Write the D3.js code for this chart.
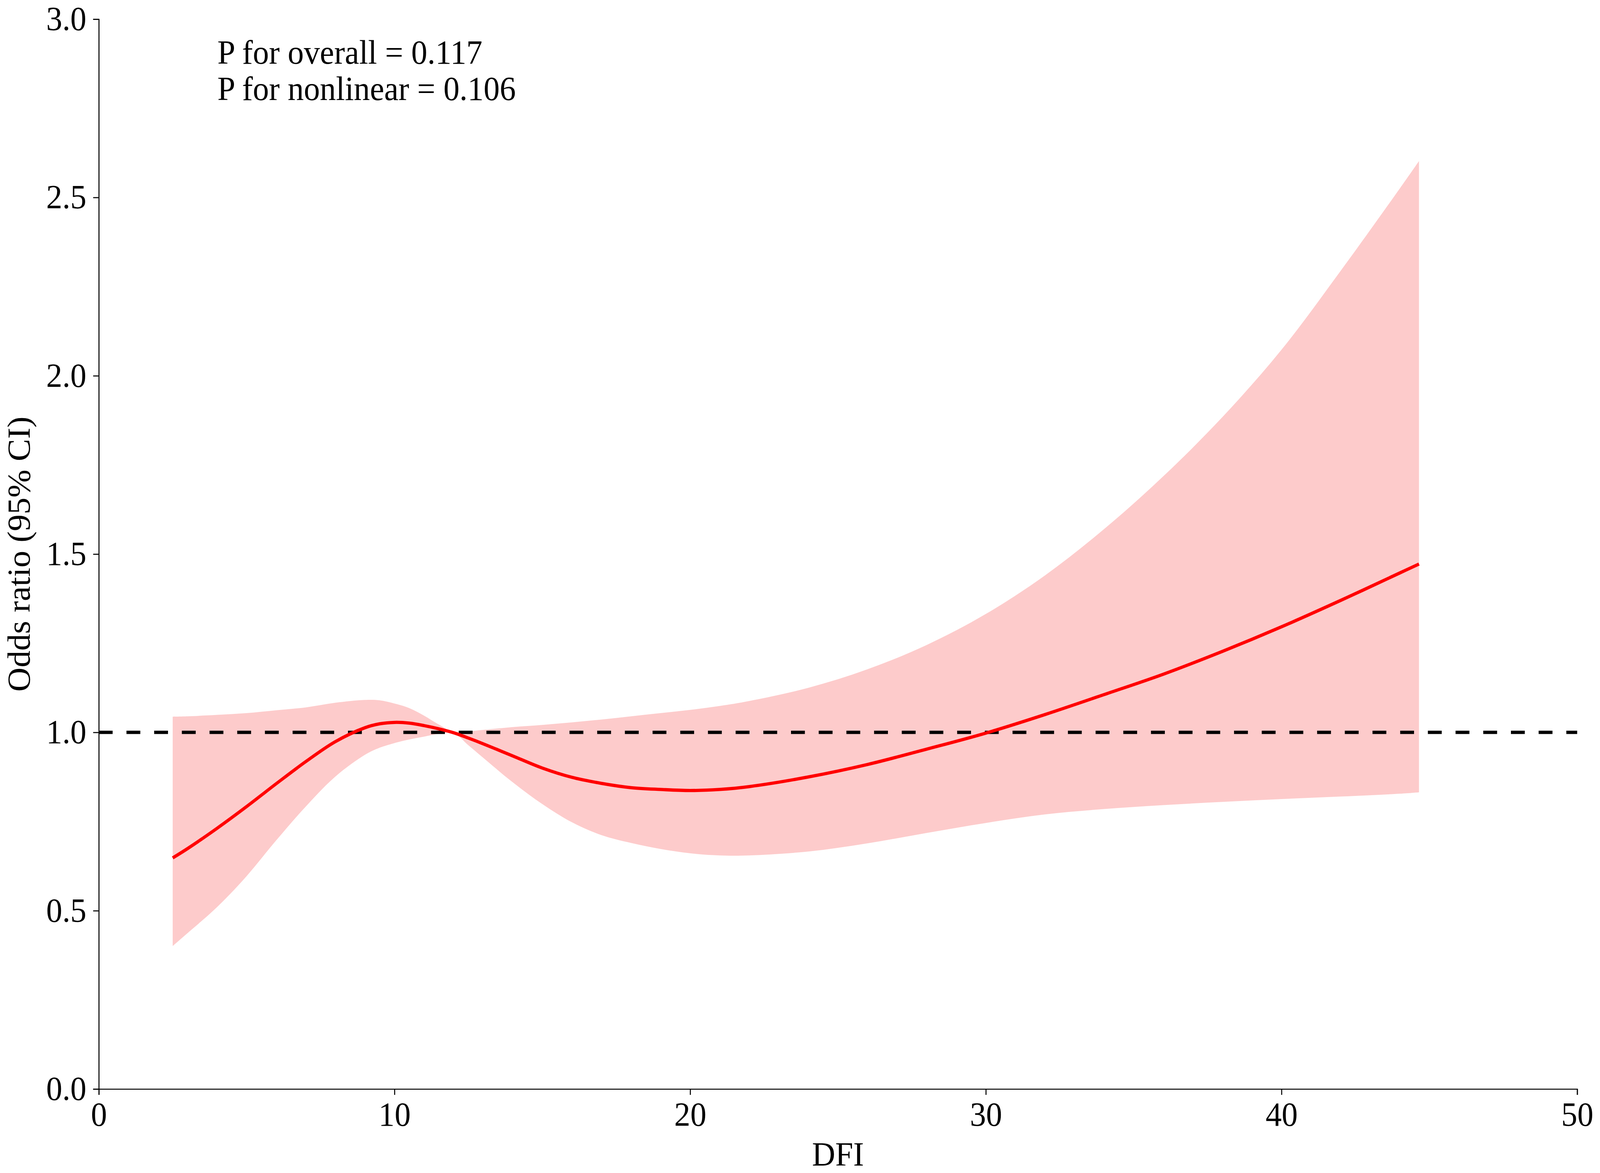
<!DOCTYPE html>
<html>
<head>
<meta charset="utf-8">
<script src="https://cdn.jsdelivr.net/npm/d3@7"></script>
<style>
  html, body { margin: 0; padding: 0; background: #fff; overflow: hidden; }
  svg { display: block; }
  text { font-family: "Liberation Serif", "Times New Roman", serif; }
</style>
</head>
<body>
<div id="chart"></div>
<script>
// DFI grid and spline values
var dfi   = [2.5, 3, 4, 5, 6, 7, 8, 9, 9.5, 10, 10.5, 11, 11.5, 12, 12.5, 13, 14, 15, 16, 17, 18, 19, 20, 21, 22, 24, 26, 28, 30, 32, 34, 36, 38, 40, 42, 44, 44.65];
var orEst = [0.648, 0.674, 0.731, 0.792, 0.856, 0.918, 0.974, 1.013, 1.024, 1.028, 1.026, 1.019, 1.010, 0.999, 0.984, 0.968, 0.934, 0.900, 0.874, 0.857, 0.845, 0.840, 0.837, 0.840, 0.848, 0.875, 0.910, 0.953, 0.998, 1.050, 1.106, 1.163, 1.227, 1.296, 1.370, 1.447, 1.472];
var ciLow = [0.401, 0.437, 0.510, 0.597, 0.697, 0.792, 0.876, 0.937, 0.957, 0.970, 0.980, 0.988, 0.996, 0.998, 0.964, 0.929, 0.860, 0.799, 0.748, 0.712, 0.690, 0.673, 0.661, 0.655, 0.655, 0.666, 0.689, 0.718, 0.746, 0.770, 0.785, 0.796, 0.805, 0.813, 0.820, 0.828, 0.832];
var ciUp  = [1.044, 1.045, 1.049, 1.054, 1.062, 1.070, 1.083, 1.091, 1.090, 1.081, 1.068, 1.047, 1.022, 1.001, 1.003, 1.007, 1.015, 1.021, 1.028, 1.036, 1.045, 1.054, 1.063, 1.074, 1.088, 1.125, 1.177, 1.245, 1.332, 1.440, 1.570, 1.718, 1.884, 2.073, 2.294, 2.525, 2.602];

var xTicks = [0, 10, 20, 30, 40, 50];
var yTicks = [0, 0.5, 1.0, 1.5, 2.0, 2.5, 3.0];
var pTexts = ["P for overall = 0.117", "P for nonlinear = 0.106"];
var refLine = 1.0;

var width = 4276, height = 3002;
var margin = {left: 264, right: 61, top: 49, bottom: 215};
var fontSize = 86;

// the window is narrower than the figure, so stretch the drawing to fill it
var svg = d3.select("#chart").append("svg")
    .attr("viewBox", "0 0 " + width + " " + height)
    .attr("preserveAspectRatio", "none")
    .style("width", "100vw")
    .style("height", "100vh");

var x = d3.scaleLinear().domain([0, 50]).range([margin.left, width - margin.right]);
var y = d3.scaleLinear().domain([0, 3]).range([height - margin.bottom, margin.top]);

var pts = dfi.map(function(d, i) {
    return {x: d, est: orEst[i], lo: ciLow[i], hi: ciUp[i]};
});

// confidence band
var area = d3.area()
    .x(d => x(d.x))
    .y0(d => y(d.lo))
    .y1(d => y(d.hi))
    .curve(d3.curveCatmullRom.alpha(0.5));

svg.append("path")
    .datum(pts)
    .attr("d", area)
    .attr("fill", "#fdcbcb");

// reference line at OR = 1
svg.append("line")
    .attr("x1", x(0))
    .attr("x2", x(50))
    .attr("y1", y(refLine))
    .attr("y2", y(refLine))
    .attr("stroke", "#000")
    .attr("stroke-width", 8.5)
    .attr("stroke-dasharray", "37,37");

// estimate line
var line = d3.line()
    .x(d => x(d.x))
    .y(d => y(d.est))
    .curve(d3.curveCatmullRom.alpha(0.5));

svg.append("path")
    .datum(pts)
    .attr("d", line)
    .attr("fill", "none")
    .attr("stroke", "#ff0000")
    .attr("stroke-width", 8.3);

// axes
var xAxis = d3.axisBottom(x)
    .tickValues(xTicks)
    .tickFormat(d3.format("d"))
    .tickSizeOuter(0)
    .tickSize(15)
    .tickPadding(18);

var yAxis = d3.axisLeft(y)
    .tickValues(yTicks)
    .tickFormat(d3.format(".1f"))
    .tickSizeOuter(0)
    .tickSize(15)
    .tickPadding(18);

var gx = svg.append("g")
    .attr("transform", "translate(0," + (height - margin.bottom) + ")")
    .call(xAxis);

var gy = svg.append("g")
    .attr("transform", "translate(" + margin.left + ",0)")
    .call(yAxis);

[gx, gy].forEach(function(g) {
    g.selectAll("path, line")
        .attr("stroke", "#000")
        .attr("stroke-width", 2.7);
    g.selectAll("text")
        .attr("font-size", fontSize)
        .attr("font-family", "Liberation Serif")
        .attr("fill", "#000");
});

// axis titles
svg.append("text")
    .attr("x", (x(0) + x(50)) / 2)
    .attr("y", 2983)
    .attr("text-anchor", "middle")
    .attr("font-size", fontSize)
    .text("DFI");

svg.append("text")
    .attr("transform", "translate(79," + (y(0) + y(3)) / 2 + ") rotate(-90)")
    .attr("text-anchor", "middle")
    .attr("font-size", fontSize)
    .text("Odds ratio (95% CI)");

// p-value annotation
svg.selectAll(".ptext")
    .data(pTexts)
    .enter()
    .append("text")
    .attr("class", "ptext")
    .attr("x", 581)
    .attr("y", (d, i) => 163 + i * 93)
    .attr("font-size", fontSize)
    .text(d => d);
</script>
</body>
</html>
